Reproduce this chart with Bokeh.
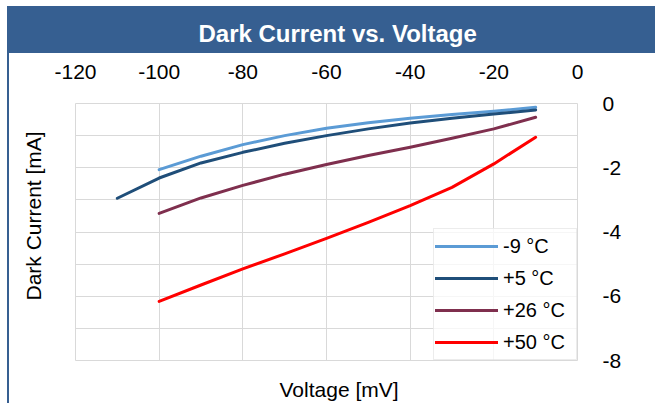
from bokeh.plotting import figure
from bokeh.models import Range1d, FixedTicker, Title, LinearAxis
from bokeh.embed import file_html
from bokeh.resources import INLINE

# ---- data ----
x_m9 = [-100, -90, -80, -70, -60, -50, -40, -30, -20, -10]
y_m9 = [-2.06, -1.64, -1.28, -1.00, -0.77, -0.60, -0.46, -0.34, -0.24, -0.12]
x_p5 = [-110, -100, -90, -80, -70, -60, -50, -40, -30, -20, -10]
y_p5 = [-2.95, -2.32, -1.85, -1.52, -1.24, -1.00, -0.79, -0.61, -0.46, -0.33, -0.20]
x_p26 = [-100, -90, -80, -70, -60, -50, -40, -30, -20, -10]
y_p26 = [-3.42, -2.94, -2.55, -2.20, -1.90, -1.62, -1.36, -1.08, -0.79, -0.43]
x_p50 = [-100, -90, -80, -70, -60, -50, -40, -30, -20, -10]
y_p50 = [-6.16, -5.65, -5.15, -4.68, -4.20, -3.70, -3.18, -2.61, -1.88, -1.05]
series_labels = ["-9 °C", "+5 °C", "+26 °C", "+50 °C"]
series_colors = ["#5B9BD5", "#1F4E79", "#7F2F4E", "#FF0000"]
x_ticks = [-120, -100, -80, -60, -40, -20, 0]
y_ticks = [0, -2, -4, -6, -8]
y_grid = [0, -1, -2, -3, -4, -5, -6, -7, -8]

FONT = "Liberation Sans"
BLUE = "#365F91"
W, H = 655, 403

p = figure(width=W, height=H, output_backend="svg", toolbar_location=None,
           x_range=Range1d(-120, 0), y_range=Range1d(-8, 0),
           x_axis_location="above", y_axis_location="right",
           min_border_left=74, min_border_right=78, min_border_top=103,
           min_border_bottom=43)
p.background_fill_color = "white"
p.border_fill_color = None
p.outline_line_color = "#D9D9D9"
p.styles = {
    "background-color": "white",
    "background-image": f"linear-gradient({BLUE}, {BLUE}), linear-gradient({BLUE}, {BLUE})",
    "background-size": "648px 47px, 2px 397px",
    "background-position": "7px 6px, 7px 6px",
    "background-repeat": "no-repeat",
}

for ax in (p.xaxis[0], p.yaxis[0]):
    ax.axis_line_color = None
    ax.major_tick_line_color = None
    ax.minor_tick_line_color = None
    ax.major_label_text_font = FONT
    ax.major_label_text_font_size = "21px"
    ax.major_label_text_color = "#000000"

p.xaxis[0].ticker = FixedTicker(ticks=x_ticks)
p.xaxis[0].major_label_overrides = {t: str(t) for t in x_ticks}
p.xaxis[0].major_label_standoff = 19
p.yaxis[0].ticker = FixedTicker(ticks=y_ticks)
p.yaxis[0].major_label_overrides = {t: str(t) for t in y_ticks}
p.yaxis[0].major_label_standoff = 19

p.xgrid.ticker = FixedTicker(ticks=x_ticks)
p.ygrid.ticker = FixedTicker(ticks=y_grid)
p.xgrid.grid_line_color = "#D9D9D9"
p.ygrid.grid_line_color = "#D9D9D9"


def spacer_axis(size, tick):
    # an invisible axis that only reserves `size` pixels next to the frame
    ax = LinearAxis(ticker=FixedTicker(ticks=[tick]))
    ax.major_label_overrides = {tick: ""}
    ax.major_label_text_font_size = "1px"
    ax.axis_line_color = None
    ax.major_tick_line_color = None
    ax.minor_tick_line_color = None
    ax.major_tick_out = size
    ax.major_tick_in = 0
    ax.minor_tick_out = 0
    ax.major_label_standoff = 0
    return ax


p.add_layout(spacer_axis(15, -60), "below")
p.add_layout(spacer_axis(11, -4), "left")

for xs, ys, lab, col in zip([x_m9, x_p5, x_p26, x_p50], [y_m9, y_p5, y_p26, y_p50],
                            series_labels, series_colors):
    p.line(xs, ys, line_color=col, line_width=3, line_cap="round",
           line_join="round", legend_label=lab)

lg = p.legend[0]
lg.location = "bottom_right"
lg.margin = 0
lg.padding = 1
lg.spacing = 0
lg.glyph_width = 63
lg.glyph_height = 32
lg.label_height = 32
lg.label_standoff = 5
lg.label_width = 72
lg.label_text_font = FONT
lg.label_text_font_size = "20px"
lg.label_text_color = "#000000"
lg.border_line_color = "#D9D9D9"
lg.border_line_width = 1.5
lg.background_fill_color = "white"
lg.background_fill_alpha = 0.75

p.add_layout(Title(text="Dark Current vs. Voltage", align="left", offset=123,
                   standoff=29, text_font=FONT, text_font_style="bold",
                   text_font_size="24px", text_color="white"), "above")
p.add_layout(Title(text="Voltage [mV]", align="left", offset=204, standoff=0,
                   text_font=FONT, text_font_style="normal",
                   text_font_size="21px", text_color="#000000"), "below")
p.add_layout(Title(text="Dark Current [mA]", align="left", offset=60, standoff=39,
                   text_font=FONT, text_font_style="normal",
                   text_font_size="21px", text_color="#000000"), "left")

open("out.html", "w").write(file_html(p, INLINE))
